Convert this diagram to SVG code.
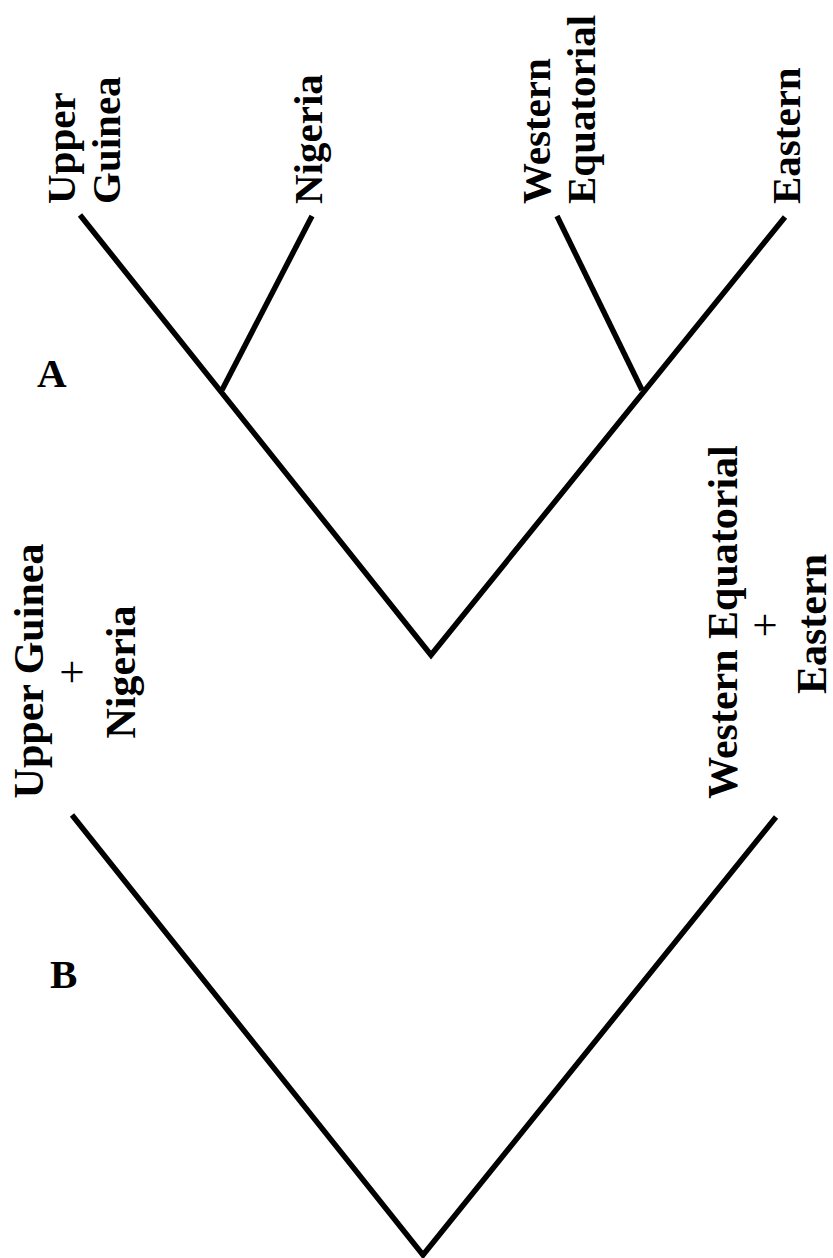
<svg xmlns="http://www.w3.org/2000/svg" width="833" height="1258" viewBox="0 0 833 1258">
<style>
.t{font-family:"Liberation Serif","Times New Roman",serif;font-weight:bold;font-size:41px;fill:#000}
.b{font-size:42px}
.p{font-family:"Liberation Serif","Times New Roman",serif;font-size:44px;fill:#000}
.e{fill:none;stroke:#000;stroke-width:5.5;stroke-linecap:butt;stroke-linejoin:miter}
</style>
<rect width="833" height="1258" fill="#fff"/>
<g id="connectors">
<polyline class="e" points="80,215 431,655 785,217"/>
<line class="e" x1="222" y1="390" x2="312" y2="216"/>
<line class="e" x1="642" y1="390" x2="557" y2="216"/>
<polyline class="e" points="72,815 423,1255 776,817"/>
</g>
<g id="labelA"><text class="t" x="37" y="387" font-size="40">A</text></g>
<g id="labelB"><text class="t" x="50" y="988" font-size="40">B</text></g>
<g id="upperGuinea"><text class="t" transform="translate(75,204) rotate(-90)">Upper</text><text class="t" transform="translate(120,204) rotate(-90)">Guinea</text></g>
<g id="nigeria"><text class="t" transform="translate(322,204) rotate(-90)">Nigeria</text></g>
<g id="westernEquatorial"><text class="t" transform="translate(550,204) rotate(-90)">Western</text><text class="t" transform="translate(595,204) rotate(-90)">Equatorial</text></g>
<g id="eastern"><text class="t" transform="translate(800,204) rotate(-90)">Eastern</text></g>
<g id="ugPlusNigeria" text-anchor="middle"><text class="t b" transform="translate(43,671) rotate(-90)">Upper Guinea</text><text class="p" transform="translate(87,672) rotate(-90)">+</text><text class="t b" transform="translate(135,672) rotate(-90)">Nigeria</text></g>
<g id="wePlusEastern" text-anchor="middle"><text class="t b" transform="translate(737,622) rotate(-90)">Western Equatorial</text><text class="p" transform="translate(780,625) rotate(-90)">+</text><text class="t b" transform="translate(826,624) rotate(-90)">Eastern</text></g>
</svg>
